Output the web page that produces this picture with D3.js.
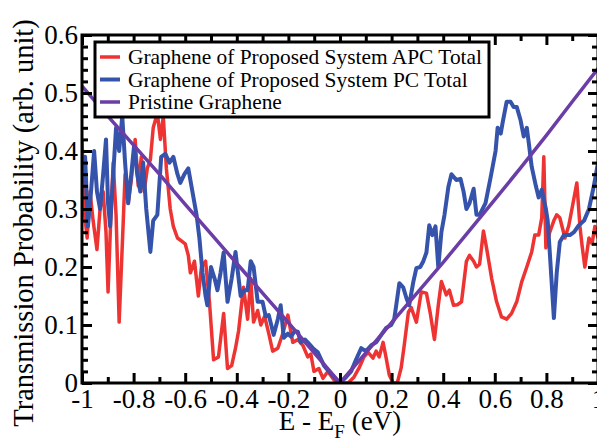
<!DOCTYPE html>
<html>
<head>
<meta charset="utf-8">
<script src="https://cdn.jsdelivr.net/npm/d3@7"></script>
<style>
body { margin: 0; background: #fff; }
svg { display: block; }
</style>
</head>
<body>
<svg id="svg" width="597" height="440"></svg>
<script>
// transmission vs E - E_F
var seriesNames = ["Graphene of Proposed System APC Total", "Graphene of Proposed System PC Total", "Pristine Graphene"];
var seriesColors = ["#ee3333", "#3553ab", "#6a3ea6"];

var xTickValues = [-1, -0.8, -0.6, -0.4, -0.2, 0, 0.2, 0.4, 0.6, 0.8, 1];
var yTickValues = [0, 0.1, 0.2, 0.3, 0.4, 0.5, 0.6];

var apcTotal = [
	[-1.0, 0.42], [-0.992, 0.30], [-0.98, 0.25], [-0.969, 0.33], [-0.957, 0.28], [-0.942, 0.23],
	[-0.93, 0.30], [-0.918, 0.33], [-0.907, 0.26], [-0.899, 0.157], [-0.887, 0.30], [-0.879, 0.38],
	[-0.868, 0.29], [-0.856, 0.105], [-0.84, 0.28], [-0.833, 0.36], [-0.821, 0.31], [-0.809, 0.35],
	[-0.794, 0.42], [-0.782, 0.34], [-0.77, 0.39], [-0.759, 0.33], [-0.747, 0.37], [-0.735, 0.385],
	[-0.724, 0.44], [-0.708, 0.465], [-0.696, 0.42], [-0.685, 0.46], [-0.673, 0.37], [-0.658, 0.30],
	[-0.646, 0.27], [-0.63, 0.25], [-0.615, 0.245], [-0.6, 0.24], [-0.588, 0.22], [-0.58, 0.19],
	[-0.564, 0.21], [-0.549, 0.15], [-0.537, 0.20], [-0.521, 0.21], [-0.506, 0.14], [-0.49, 0.04],
	[-0.471, 0.045], [-0.451, 0.12], [-0.436, 0.025], [-0.42, 0.03], [-0.405, 0.06], [-0.393, 0.09],
	[-0.374, 0.165], [-0.358, 0.11], [-0.346, 0.18], [-0.335, 0.105], [-0.319, 0.125], [-0.307, 0.10],
	[-0.292, 0.115], [-0.276, 0.085], [-0.261, 0.055], [-0.241, 0.06], [-0.222, 0.085], [-0.202, 0.117],
	[-0.183, 0.07], [-0.163, 0.075], [-0.144, 0.065], [-0.125, 0.045], [-0.113, 0.05], [-0.101, 0.02],
	[-0.082, 0.025], [-0.066, 0.008], [-0.047, 0.02], [-0.023, 0.005], [0.004, 0.0], [0.031, 0.0],
	[0.054, 0.01], [0.074, 0.026], [0.093, 0.045], [0.109, 0.053], [0.128, 0.043], [0.14, 0.055],
	[0.152, 0.045], [0.167, 0.07], [0.179, 0.043], [0.191, 0.014], [0.206, 0.0], [0.222, 0.0],
	[0.237, 0.026], [0.249, 0.065], [0.265, 0.122], [0.276, 0.13], [0.296, 0.105], [0.315, 0.157],
	[0.335, 0.155], [0.35, 0.12], [0.366, 0.075], [0.381, 0.134], [0.393, 0.175], [0.412, 0.152],
	[0.424, 0.16], [0.44, 0.134], [0.455, 0.135], [0.471, 0.14], [0.49, 0.21], [0.502, 0.22],
	[0.518, 0.21], [0.529, 0.2], [0.541, 0.205], [0.556, 0.262], [0.568, 0.233], [0.588, 0.18],
	[0.607, 0.14], [0.626, 0.114], [0.646, 0.11], [0.665, 0.12], [0.685, 0.14], [0.704, 0.174],
	[0.724, 0.2], [0.743, 0.226], [0.755, 0.255], [0.77, 0.255], [0.782, 0.285], [0.79, 0.39],
	[0.798, 0.233], [0.813, 0.26], [0.829, 0.28], [0.84, 0.29], [0.852, 0.285], [0.872, 0.25],
	[0.887, 0.272], [0.899, 0.3], [0.918, 0.345], [0.93, 0.27], [0.938, 0.238], [0.949, 0.2],
	[0.965, 0.25], [0.977, 0.24], [0.988, 0.27], [1.0, 0.25]
];

var pcTotal = [
	[-1.0, 0.38], [-0.988, 0.39], [-0.977, 0.27], [-0.965, 0.33], [-0.953, 0.40], [-0.942, 0.33],
	[-0.93, 0.30], [-0.918, 0.36], [-0.907, 0.42], [-0.899, 0.31], [-0.891, 0.27], [-0.879, 0.36],
	[-0.868, 0.44], [-0.856, 0.40], [-0.844, 0.46], [-0.833, 0.38], [-0.821, 0.31], [-0.809, 0.36],
	[-0.798, 0.41], [-0.786, 0.36], [-0.774, 0.33], [-0.763, 0.38], [-0.751, 0.30], [-0.735, 0.226],
	[-0.724, 0.28], [-0.708, 0.29], [-0.693, 0.39], [-0.677, 0.395], [-0.661, 0.38], [-0.646, 0.39],
	[-0.63, 0.36], [-0.619, 0.345], [-0.603, 0.36], [-0.588, 0.37], [-0.572, 0.33], [-0.556, 0.29],
	[-0.545, 0.25], [-0.533, 0.19], [-0.521, 0.15], [-0.514, 0.134], [-0.50, 0.20], [-0.486, 0.18],
	[-0.475, 0.16], [-0.463, 0.19], [-0.451, 0.225], [-0.436, 0.14], [-0.42, 0.18], [-0.405, 0.226],
	[-0.385, 0.15], [-0.37, 0.16], [-0.358, 0.16], [-0.346, 0.21], [-0.335, 0.2], [-0.319, 0.14],
	[-0.30, 0.14], [-0.288, 0.115], [-0.276, 0.117], [-0.257, 0.083], [-0.241, 0.11], [-0.23, 0.134],
	[-0.218, 0.078], [-0.202, 0.085], [-0.19, 0.08], [-0.175, 0.09], [-0.163, 0.088], [-0.152, 0.07],
	[-0.136, 0.075], [-0.125, 0.07], [-0.105, 0.06], [-0.086, 0.053], [-0.062, 0.03], [-0.043, 0.02],
	[-0.023, 0.01], [0.0, 0.0], [0.023, 0.01], [0.043, 0.02], [0.062, 0.04], [0.082, 0.06],
	[0.101, 0.055], [0.121, 0.065], [0.14, 0.07], [0.16, 0.083], [0.179, 0.095], [0.198, 0.1],
	[0.21, 0.11], [0.218, 0.134], [0.23, 0.172], [0.245, 0.165], [0.257, 0.147], [0.268, 0.134],
	[0.284, 0.174], [0.296, 0.198], [0.311, 0.2], [0.323, 0.21], [0.335, 0.225], [0.346, 0.272],
	[0.358, 0.255], [0.37, 0.27], [0.381, 0.2], [0.393, 0.26], [0.405, 0.29], [0.42, 0.338],
	[0.432, 0.36], [0.451, 0.35], [0.467, 0.352], [0.479, 0.33], [0.49, 0.30], [0.502, 0.31],
	[0.518, 0.335], [0.529, 0.29], [0.541, 0.29], [0.564, 0.31], [0.584, 0.355], [0.603, 0.40],
	[0.611, 0.44], [0.623, 0.43], [0.63, 0.448], [0.646, 0.485], [0.661, 0.485], [0.673, 0.476],
	[0.685, 0.476], [0.70, 0.453], [0.712, 0.425], [0.724, 0.44], [0.732, 0.413], [0.743, 0.373],
	[0.759, 0.34], [0.77, 0.32], [0.782, 0.333], [0.798, 0.30], [0.805, 0.28], [0.813, 0.226],
	[0.829, 0.112], [0.84, 0.19], [0.852, 0.243], [0.868, 0.255], [0.891, 0.255], [0.907, 0.26],
	[0.926, 0.272], [0.946, 0.28], [0.965, 0.30], [0.984, 0.34], [1.0, 0.38]
];

var pristine = [
	[-1.0, 0.512], [-0.9, 0.46], [-0.8, 0.41], [-0.7, 0.36], [-0.6, 0.308], [-0.5, 0.257],
	[-0.4, 0.206], [-0.3, 0.155], [-0.2, 0.104], [-0.1, 0.052], [0.0, 0.0], [0.1, 0.052],
	[0.2, 0.104], [0.3, 0.156], [0.4, 0.208], [0.5, 0.262], [0.6, 0.316], [0.7, 0.371],
	[0.8, 0.427], [0.9, 0.485], [1.0, 0.542]
];

var allSeries = [apcTotal, pcTotal, pristine];
var lineWidths = [3.5, 4, 3.5];
var serif = '"Liberation Serif", "DejaVu Serif", serif';

var svg = d3.select('#svg').attr('font-family', serif),
	plotLeft = 82, plotRight = 598, plotTop = 35, plotBottom = 383;

var x = d3.scaleLinear().domain([-1, 1]).range([plotLeft, plotRight]);
var y = d3.scaleLinear().domain([0, 0.6]).range([plotBottom, plotTop]);

svg.append('clipPath').attr('id', 'plot-clip')
	.append('rect')
	.attr('x', plotLeft).attr('y', plotTop)
	.attr('width', plotRight - plotLeft).attr('height', plotBottom - plotTop);

var line = d3.line()
	.x(function(d){ return x(d[0]); })
	.y(function(d){ return y(d[1]); });

svg.append('g')
	.attr('clip-path', 'url(#plot-clip)')
	.selectAll('path')
	.data(allSeries)
	.enter()
	.append('path')
	.attr('d', line)
	.style('fill', 'none')
	.style('stroke', function(d, i){ return seriesColors[i]; })
	.style('stroke-width', function(d, i){ return lineWidths[i]; })
	.style('stroke-linejoin', 'round');

// ticks point inward on all four sides
var xMinor = d3.range(-0.9, 1, 0.2),
	yMinor = d3.range(0, 0.601, 0.02).filter(function(v){
		return Math.abs(v * 10 - Math.round(v * 10)) > 0.01;
	});

var fmt = function(d){ return String(+d.toFixed(1)); };

function addAxis(axis, tx, ty){
	var g = svg.append('g')
		.attr('transform', 'translate(' + tx + ',' + ty + ')')
		.call(axis)
		.attr('font-family', serif)
		.attr('font-size', 27);
	g.select('.domain').remove();
	g.selectAll('line').style('stroke', '#000').style('stroke-width', 3);
	g.selectAll('text').style('fill', '#000');
	return g;
}

addAxis(d3.axisBottom(x).tickValues(xTickValues).tickSize(-10).tickPadding(6).tickFormat(fmt), 0, plotBottom);
addAxis(d3.axisBottom(x).tickValues(xMinor).tickSize(-6).tickFormat(''), 0, plotBottom);
addAxis(d3.axisTop(x).tickValues(xTickValues).tickSize(-10).tickFormat(''), 0, plotTop);
addAxis(d3.axisTop(x).tickValues(xMinor).tickSize(-6).tickFormat(''), 0, plotTop);

addAxis(d3.axisLeft(y).tickValues(yTickValues).tickSize(-10).tickPadding(4).tickFormat(fmt), plotLeft, 0);
addAxis(d3.axisLeft(y).tickValues(yMinor).tickSize(-6).tickFormat(''), plotLeft, 0);
addAxis(d3.axisRight(y).tickValues(yTickValues).tickSize(-10).tickFormat(''), plotRight, 0);
addAxis(d3.axisRight(y).tickValues(yMinor).tickSize(-6).tickFormat(''), plotRight, 0);

svg.append('rect')
	.attr('x', plotLeft).attr('y', plotTop)
	.attr('width', plotRight - plotLeft).attr('height', plotBottom - plotTop)
	.style('fill', 'none')
	.style('stroke', '#000')
	.style('stroke-width', 3);

// legend
var legend = svg.append('g').attr('transform', 'translate(95,42)');

legend.append('rect')
	.attr('width', 394).attr('height', 75)
	.style('fill', '#fff')
	.style('stroke', '#000')
	.style('stroke-width', 3);

var rows = legend.selectAll('g.row')
	.data(seriesNames)
	.enter()
	.append('g')
	.attr('class', 'row')
	.attr('transform', function(d, i){ return 'translate(0,' + (15 + i * 22.5) + ')'; });

rows.append('line')
	.attr('x1', 5).attr('x2', 25)
	.style('stroke', function(d, i){ return seriesColors[i]; })
	.style('stroke-width', function(d, i){ return lineWidths[i]; });

rows.append('text')
	.attr('x', 33).attr('dy', '0.33em')
	.attr('font-size', 21.4)
	.text(function(d){ return d; });

// axis titles
var xTitle = svg.append('text')
	.attr('x', 340).attr('y', 430)
	.attr('text-anchor', 'middle')
	.attr('font-size', 27);
xTitle.append('tspan').text('E - E');
xTitle.append('tspan').attr('dy', 8).attr('font-size', 19).text('F');
xTitle.append('tspan').attr('dy', -8).text(' (eV)');

svg.append('text')
	.attr('transform', 'translate(33,223) rotate(-90)')
	.attr('text-anchor', 'middle')
	.attr('font-size', 28.5)
	.text('Transmission Probability (arb. unit)');
</script>
</body>
</html>
